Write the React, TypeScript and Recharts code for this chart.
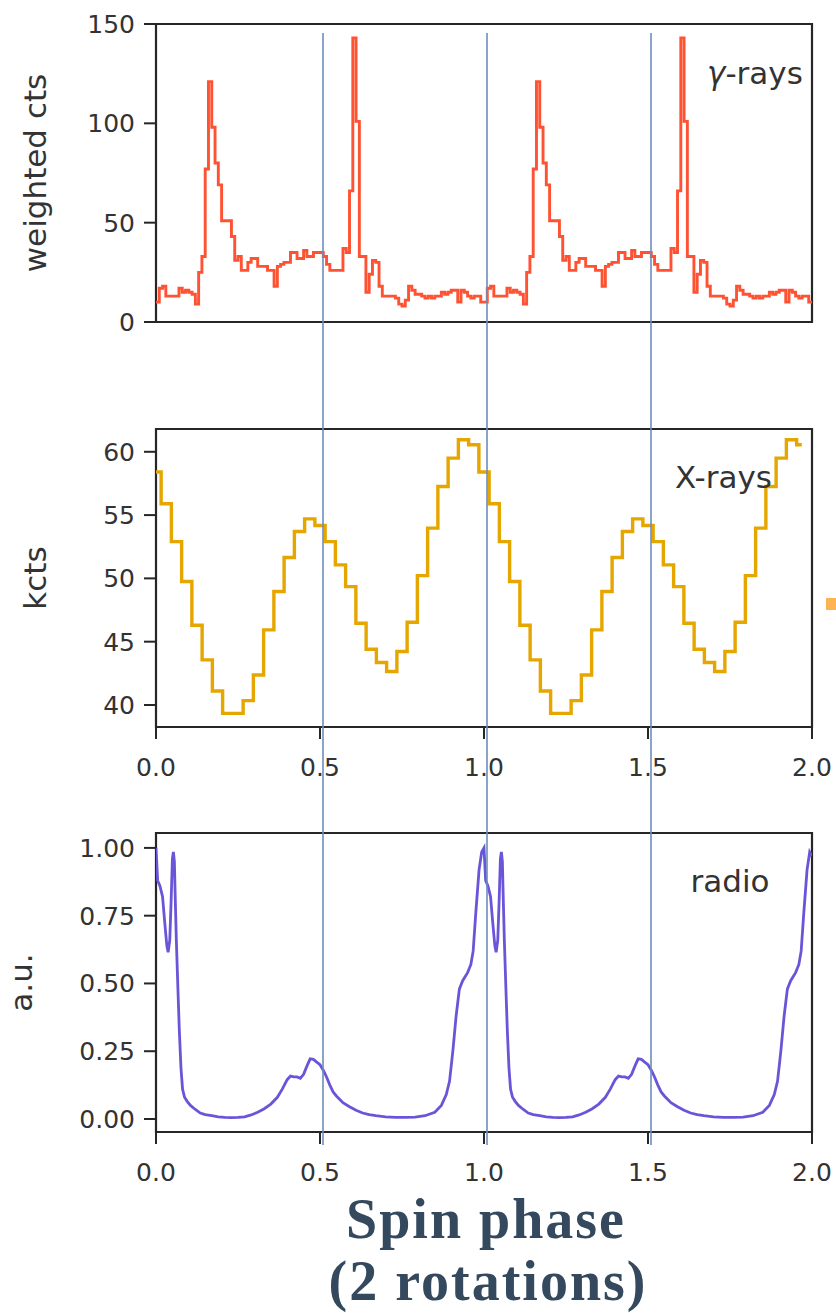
import React from 'react';
import { LineChart, Line, XAxis, YAxis, ReferenceLine, ReferenceArea, ReferenceDot } from 'recharts';

// ---------- data ----------
const phaseTicks = [0, 0.5, 1.0, 1.5, 2.0];
const markerPhases = [0.5, 1.0, 1.5];
const rotations = [0, 1];

// gamma-ray weighted counts, 100 phase bins per rotation
const gammaBinsPerRotation = 100;
const gammaCounts = [
  10, 17, 18, 13, 13, 13, 13, 17, 15, 16,
  15, 14, 9, 25, 33, 77, 121, 98, 80, 69,
  51, 51, 51, 43, 31, 33, 26, 26, 30, 32,
  32, 28, 28, 28, 26, 26, 18, 28, 29, 30,
  30, 35, 35, 32, 32, 36, 33, 33, 35, 35,
  35, 33, 29, 26, 26, 26, 26, 37, 35, 66,
  143, 101, 33, 33, 15, 24, 31, 30, 18, 13,
  13, 13, 13, 12, 9, 8, 11, 18, 16, 14,
  14, 13, 12, 13, 12, 13, 13, 15, 14, 15,
  16, 16, 10, 16, 15, 13, 12, 13, 13, 10,
];
const gammaTicks = [0, 50, 100, 150];

// X-ray kcts, 32 phase bins per rotation
const xrayBinsPerRotation = 32;
const xrayKcts = [
  58.4, 55.9, 52.9, 49.75, 46.3, 43.56, 41.1, 39.34,
  39.34, 40.34, 42.37, 45.93, 48.96, 51.65, 53.7, 54.7,
  54.18, 52.9, 51.07, 49.35, 46.46, 44.4, 43.35, 42.64,
  44.22, 46.53, 50.22, 53.97, 57.26, 59.5, 60.95, 60.55,
];
const xrayTicks = [40, 45, 50, 55, 60];

// radio profile (a.u.)
const radioPhase = [
  0.000, 0.005, 0.012, 0.020, 0.027, 0.033, 0.037, 0.042, 0.046, 0.050,
  0.053, 0.056, 0.059, 0.062, 0.066, 0.071, 0.076, 0.081, 0.087, 0.095,
  0.105, 0.120, 0.135, 0.150, 0.170, 0.190, 0.210, 0.230, 0.250, 0.270,
  0.290, 0.310, 0.330, 0.350, 0.370, 0.385, 0.400, 0.410, 0.420, 0.430,
  0.440, 0.450, 0.460, 0.470, 0.480, 0.490, 0.500, 0.510, 0.520, 0.530,
  0.540, 0.550, 0.570, 0.590, 0.610, 0.630, 0.650, 0.670, 0.700, 0.730,
  0.760, 0.790, 0.820, 0.850, 0.870, 0.885, 0.895, 0.905, 0.915, 0.925,
  0.935, 0.950, 0.960, 0.967, 0.975, 0.985, 0.993,
];
const radioFlux = [
  1.00, 0.88, 0.86, 0.82, 0.72, 0.64, 0.615, 0.66, 0.80, 0.96,
  0.985, 0.95, 0.80, 0.66, 0.51, 0.33, 0.19, 0.11, 0.08, 0.065,
  0.05, 0.035, 0.022, 0.016, 0.012, 0.008, 0.006, 0.005, 0.006, 0.008,
  0.015, 0.025, 0.038, 0.055, 0.08, 0.11, 0.145, 0.158, 0.155, 0.155,
  0.15, 0.165, 0.195, 0.222, 0.22, 0.21, 0.20, 0.18, 0.155, 0.125,
  0.10, 0.085, 0.06, 0.045, 0.032, 0.022, 0.016, 0.012, 0.008, 0.006,
  0.006, 0.007, 0.012, 0.025, 0.05, 0.09, 0.14, 0.25, 0.38, 0.48,
  0.51, 0.54, 0.57, 0.62, 0.76, 0.92, 0.985,
];
const radioEnd = 0.97;
const radioTicks = [0, 0.25, 0.5, 0.75, 1.0];

// ---------- derived tables ----------
const gammaData = rotations.flatMap((r) =>
  gammaCounts.map((v, k) => ({ phase: r + k / gammaBinsPerRotation, v }))
);
gammaData.push({ phase: 2, v: gammaCounts[gammaCounts.length - 1] });

const xrayData = rotations.flatMap((r) =>
  xrayKcts.map((v, k) => ({ phase: r + k / xrayBinsPerRotation, v }))
);

const radioData = rotations.flatMap((r) =>
  radioPhase.map((p, i) => ({ phase: r + p, v: radioFlux[i] }))
);
radioData.push({ phase: 2, v: radioEnd });

const overlayData = [{ phase: 0, v: 0.5 }, { phase: 2, v: 0.5 }];

// ---------- styles ----------
const W = 836;
const FONT = '"DejaVu Sans", Verdana, sans-serif';
const AXIS_COLOR = '#262626';
const TICK_TEXT = '#333333';
const TICK_FS = 25;
const LABEL_FS = 31;
const NOTE_FS = 31;

const yLabel = (text: string, x: number) => (props: any) => {
  const vb = props.viewBox || {};
  const cy = vb.y + vb.height / 2;
  return (
    <text
      x={x}
      y={cy}
      transform={`rotate(-90, ${x}, ${cy})`}
      textAnchor="middle"
      dominantBaseline="central"
      fontFamily={FONT}
      fontSize={LABEL_FS}
      fill={TICK_TEXT}
    >
      {text}
    </text>
  );
};

const noteLabel = (node: React.ReactNode) => (props: any) => {
  const vb = props.viewBox || {};
  const cx = vb.x + (vb.width || 0) / 2;
  const cy = vb.y + (vb.height || 0) / 2;
  return (
    <text x={cx} y={cy} textAnchor="middle" fontFamily={FONT} fontSize={NOTE_FS} fill={TICK_TEXT}>
      {node}
    </text>
  );
};

const TITLE_FONT = '"Liberation Serif", "DejaVu Serif", serif';
const titleLabel = (props: any) => {
  const vb = props.viewBox || {};
  const cx = vb.x + vb.width / 2;
  const y0 = vb.y;
  return (
    <g>
      <text x={cx + 2} y={y0 + 106} textAnchor="middle" fontFamily={TITLE_FONT} fontWeight={700} fontSize={56} letterSpacing={2} fill="#34495e">
        Spin phase
      </text>
      <text x={cx + 4} y={y0 + 168} textAnchor="middle" fontFamily={TITLE_FONT} fontWeight={700} fontSize={56} letterSpacing={2} fill="#34495e">
        (2 rotations)
      </text>
    </g>
  );
};

type PanelProps = {
  top: number;
  height: number;
  marginTop: number;
  marginBottom: number;
  xAxisHeight: number;
  data: { phase: number; v: number }[];
  domain: [number, number];
  yTicks: number[];
  yFormat: (v: number) => string;
  color: string;
  strokeWidth: number;
  curve: 'step' | 'stepAfter' | 'linear';
  yText: string;
  yTextX: number;
  showXLabels: boolean;
  note: React.ReactNode;
  notePhase: number;
  noteValue: number;
  title?: any;
};

function Panel(p: PanelProps) {
  return (
    <div style={{ position: 'absolute', left: 0, top: p.top, width: W, height: p.height }}>
      <LineChart
        width={W}
        height={p.height}
        data={p.data}
        margin={{ top: p.marginTop, right: 24, bottom: p.marginBottom, left: 0 }}
      >
        <XAxis
          dataKey="phase"
          type="number"
          domain={[0, 2]}
          ticks={phaseTicks}
          allowDataOverflow
          interval={0}
          height={p.xAxisHeight}
          axisLine={false}
          tickSize={12}
          tickMargin={19}
          tickLine={{ stroke: AXIS_COLOR, strokeWidth: 2 }}
          tick={p.showXLabels ? { fill: TICK_TEXT, fontSize: TICK_FS, fontFamily: FONT } : false}
          tickFormatter={(v: number) => v.toFixed(1)}
          label={p.title}
        />
        <YAxis
          type="number"
          domain={p.domain}
          ticks={p.yTicks}
          allowDataOverflow
          interval={0}
          width={156}
          axisLine={false}
          tickSize={12}
          tickMargin={9}
          tickLine={{ stroke: AXIS_COLOR, strokeWidth: 2 }}
          tick={{ fill: TICK_TEXT, fontSize: TICK_FS, fontFamily: FONT }}
          tickFormatter={p.yFormat}
          label={yLabel(p.yText, p.yTextX)}
        />
        <ReferenceArea
          x1={0}
          x2={2}
          y1={p.domain[0]}
          y2={p.domain[1]}
          fill="none"
          fillOpacity={0}
          stroke={AXIS_COLOR}
          strokeWidth={2.2}
          ifOverflow="visible"
        />
        <Line
          dataKey="v"
          type={p.curve}
          stroke={p.color}
          strokeWidth={p.strokeWidth}
          dot={false}
          activeDot={false}
          isAnimationActive={false}
        />
        <ReferenceDot
          x={p.notePhase}
          y={p.noteValue}
          r={0}
          fill="none"
          stroke="none"
          ifOverflow="visible"
          label={noteLabel(p.note)}
        />
      </LineChart>
    </div>
  );
}

export default function App() {
  return (
    <div style={{ position: 'absolute', left: 0, top: 0, width: W, height: 1313, background: '#ffffff', overflow: 'hidden' }}>
      <Panel
        top={0}
        height={362}
        marginTop={24}
        marginBottom={0}
        xAxisHeight={40}
        data={gammaData}
        domain={[0, 150]}
        yTicks={gammaTicks}
        yFormat={(v) => String(v)}
        color="#ff5232"
        strokeWidth={2.9}
        curve="stepAfter"
        yText="weighted cts"
        yTextX={35}
        showXLabels={false}
        note={<><tspan fontStyle="italic">γ</tspan>-rays</>}
        notePhase={1.826}
        noteValue={120}
      />
      <Panel
        top={400}
        height={387}
        marginTop={29}
        marginBottom={0}
        xAxisHeight={60}
        data={xrayData}
        domain={[38.26, 61.8]}
        yTicks={xrayTicks}
        yFormat={(v) => String(v)}
        color="#e6a600"
        strokeWidth={3.4}
        curve="step"
        yText="kcts"
        yTextX={35}
        showXLabels={true}
        note="X-rays"
        notePhase={1.73}
        noteValue={57.15}
      />
      <Panel
        top={800}
        height={513}
        marginTop={33}
        marginBottom={121}
        xAxisHeight={60}
        data={radioData}
        domain={[-0.048, 1.055]}
        yTicks={radioTicks}
        yFormat={(v) => v.toFixed(2)}
        color="#6a55d8"
        strokeWidth={2.8}
        curve="linear"
        yText="a.u."
        yTextX={21}
        showXLabels={true}
        note="radio"
        notePhase={1.75}
        noteValue={0.838}
        title={titleLabel}
      />
      <div style={{ position: 'absolute', left: 0, top: 0, width: W, height: 1313, pointerEvents: 'none' }}>
        <LineChart width={W} height={1313} data={overlayData} margin={{ top: 33, right: 21, bottom: 168, left: 159 }}>
          <XAxis dataKey="phase" type="number" domain={[0, 2]} hide />
          <YAxis type="number" domain={[0, 1]} hide />
          <Line dataKey="v" stroke="transparent" strokeWidth={0} dot={false} activeDot={false} isAnimationActive={false} />
          {markerPhases.map((m) => (
            <ReferenceLine key={m} x={m} stroke="#6d8cbf" strokeWidth={1.6} ifOverflow="visible" />
          ))}
        </LineChart>
      </div>
      <div style={{ position: 'absolute', left: 826, top: 598, width: 10, height: 12, background: '#ffb454' }} />
    </div>
  );
}
